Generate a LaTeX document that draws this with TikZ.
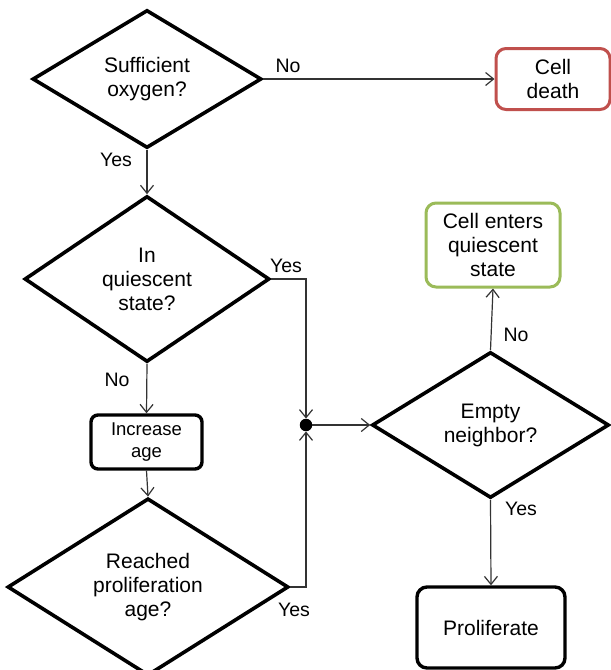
\documentclass[tikz,border=0pt]{standalone}
\usepackage{fontspec}
\setmainfont{Liberation Sans}
\usetikzlibrary{shapes.geometric,arrows.meta}
\definecolor{deathred}{HTML}{C0504D}
\definecolor{quiesgreen}{HTML}{9BBB59}
\definecolor{conn}{HTML}{333333}
\begin{document}
\begin{tikzpicture}[x=1pt,y=-1pt,
  dec/.style={diamond,draw=black,line width=3.6pt,inner sep=0pt,align=center,
    font=\fontsize{21}{24}\selectfont},
  boxnode/.style={rectangle,rounded corners=10pt,draw=black,line width=3.4pt,
    inner sep=0pt,align=center,font=\fontsize{21}{24}\selectfont},
  lbl/.style={inner sep=0pt,font=\fontsize{19.5}{22}\selectfont},
  link/.style={draw=conn,line width=1.2pt,-{Straight Barb[length=8pt,width=13pt,line width=1.2pt]}}
]
\useasboundingbox (0,0) rectangle (611,670);
\fill[white] (0,0) rectangle (611,670);

\node[dec,minimum width=229pt,minimum height=138pt] (d1) at (147,79) {Sufficient\\oxygen?};
\node[boxnode,draw=deathred,line width=3pt,minimum width=114pt,minimum height=61pt] (death) at (553,79) {Cell\\death};
\node[dec,minimum width=245pt,minimum height=166pt] (d2) at (147,279) {In\\quiescent\\state?};
\node[boxnode,rounded corners=7pt,minimum width=111pt,minimum height=54pt,font=\fontsize{18.5}{22.5}\selectfont] (inc) at (146.5,442) {Increase\\age};
\node[dec,minimum width=281pt,minimum height=162pt] (d3) at (148,587) {Reached\\proliferation\\age?};
\node[circle,fill=black,inner sep=0pt,minimum size=12.5pt] (dot) at (306,425) {};
\node[dec,minimum width=237pt,minimum height=146pt] (d4) at (490.5,425) {Empty\\neighbor?};
\node[boxnode,draw=quiesgreen,line width=3pt,minimum width=134pt,minimum height=84pt] (quies) at (493,245) {Cell enters\\quiescent\\state};
\node[boxnode,minimum width=148pt,minimum height=81pt] (prolif) at (491,627.5) {Proliferate};

\draw[link] (d1.east) -- (death.west);
\draw[link] (d1.south) -- (d2.north);
\draw[link] (d2.east) -| (dot.north);
\draw[link] (d2.south) -- (inc.north);
\draw[link] (inc.south) -- (d3.north);
\draw[link] (d3.east) -| (dot.south);
\draw[link] (dot.east) -- (d4.west);
\draw[link] (d4.north) -- (quies.south);
\draw[link] (d4.south) -- (prolif.north);

\node[lbl] (l1) at (288,66) {No};
\node[lbl] (l2) at (116,160) {Yes};
\node[lbl] (l3) at (286,266) {Yes};
\node[lbl] (l4) at (117,380) {No};
\node[lbl] (l5) at (294,610) {Yes};
\node[lbl] (l6) at (516,335) {No};
\node[lbl] (l7) at (521,509) {Yes};
\end{tikzpicture}
\end{document}
